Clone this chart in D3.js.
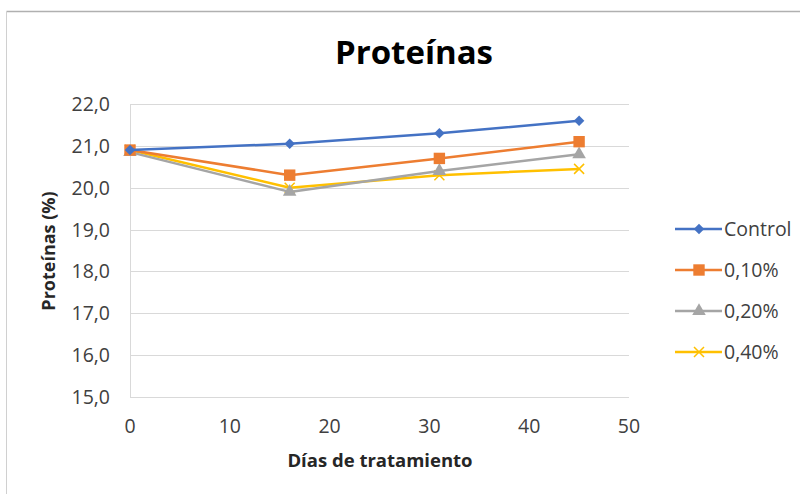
<!DOCTYPE html>
<html>
<head>
<meta charset="utf-8">
<script src="https://cdn.jsdelivr.net/npm/d3@7"></script>
<style>
  html, body { margin: 0; padding: 0; background: #fff; }
  svg { display: block; }
  text { font-family: "Open Sans", "Noto Sans", sans-serif; fill: #404040; }
</style>
</head>
<body>
<svg id="chart" width="800" height="494"></svg>
<script>
// Protein content (%) over the treatment period
const days = [0, 16, 31, 45];
const seriesNames = ["Control", "0,10%", "0,20%", "0,40%"];
const control = [20.9, 21.05, 21.3, 21.6];
const dose010 = [20.9, 20.3, 20.7, 21.1];
const dose020 = [20.85, 19.9, 20.4, 20.8];
const dose040 = [20.9, 20.0, 20.3, 20.45];
const yTicks = [15, 16, 17, 18, 19, 20, 21, 22];
const xTicks = [0, 10, 20, 30, 40, 50];

const colors = ["#4472C4", "#ED7D31", "#A5A5A5", "#FFC000"];
const symbols = [d3.symbolSquare, d3.symbolSquare, d3.symbolTriangle, d3.symbolCross];
const symbolSizes = [55, 130, 80, 0];
const symbolRotation = [45, 0, 0, 0];
const seriesValues = [control, dose010, dose020, dose040];

const svg = d3.select("#chart");

// chart frame
svg.append("line").attr("x1", 6.5).attr("x2", 800).attr("y1", 11.5).attr("y2", 11.5)
  .attr("stroke", "#b0b0b0").attr("stroke-width", 1.5);
svg.append("line").attr("x1", 6.5).attr("x2", 6.5).attr("y1", 11.5).attr("y2", 494)
  .attr("stroke", "#d0d0d0").attr("stroke-width", 1);

const x = d3.scaleLinear().domain([0, 50]).range([130, 629]);
const y = d3.scaleLinear().domain([15, 22]).range([397, 104]);

// horizontal gridlines
svg.append("g")
  .selectAll("line").data(yTicks).join("line")
  .attr("x1", x(0)).attr("x2", x(50))
  .attr("y1", d => Math.round(y(d)) + 0.5).attr("y2", d => Math.round(y(d)) + 0.5)
  .attr("stroke", "#d9d9d9").attr("stroke-width", 1);

// vertical axis line
svg.append("line").attr("x1", x(0) + 0.5).attr("x2", x(0) + 0.5)
  .attr("y1", y(22)).attr("y2", y(15))
  .attr("stroke", "#d9d9d9");

// y tick labels
const fmt = d => d3.format(".1f")(d).replace(".", ",");
svg.append("g").selectAll("text").data(yTicks).join("text")
  .attr("x", 110).attr("y", d => y(d)).attr("dy", "0.36em")
  .attr("text-anchor", "end").style("font-size", "19.5px")
  .text(fmt);

// x tick labels
svg.append("g").selectAll("text").data(xTicks).join("text")
  .attr("x", d => x(d)).attr("y", 426).attr("dy", "0.36em")
  .attr("text-anchor", "middle").style("font-size", "19.5px")
  .text(d => d);

// title and axis titles
svg.append("text").attr("x", 414).attr("y", 64).attr("text-anchor", "middle")
  .style("font-size", "33px").style("font-weight", "bold").style("fill", "#000")
  .text("Proteínas");
svg.append("text").attr("x", 380).attr("y", 467).attr("text-anchor", "middle")
  .style("font-size", "18.5px").style("font-weight", "bold").style("fill", "#262626")
  .text("Días de tratamiento");
svg.append("text").attr("transform", "translate(55,251) rotate(-90)")
  .attr("text-anchor", "middle")
  .style("font-size", "18px").style("font-weight", "bold").style("fill", "#262626")
  .text("Proteínas (%)");

const line = d3.line().x((d, i) => x(days[i])).y(d => y(d));

function drawMarker(g, k, cx, cy) {
  if (k === 3) {
    const s = 5;
    g.append("path")
      .attr("d", `M${cx - s},${cy - s}L${cx + s},${cy + s}M${cx - s},${cy + s}L${cx + s},${cy - s}`)
      .attr("stroke", colors[k]).attr("stroke-width", 1.5).attr("fill", "none");
  } else {
    g.append("path")
      .attr("d", d3.symbol().type(symbols[k]).size(symbolSizes[k])())
      .attr("transform", `translate(${cx},${cy}) rotate(${symbolRotation[k]})`)
      .attr("fill", colors[k]);
  }
}

// series lines and markers, drawn back to front
[3, 2, 1, 0].forEach(k => {
  const g = svg.append("g");
  g.append("path").datum(seriesValues[k])
    .attr("d", line).attr("fill", "none")
    .attr("stroke", colors[k]).attr("stroke-width", 2.5)
    .attr("stroke-linejoin", "round");
  seriesValues[k].forEach((v, i) => drawMarker(g, k, x(days[i]), y(v)));
});

// legend
const legendY = [229, 270, 311, 352];
seriesNames.forEach((name, k) => {
  const g = svg.append("g");
  const ly = legendY[k];
  g.append("line").attr("x1", 675).attr("x2", 722).attr("y1", ly).attr("y2", ly)
    .attr("stroke", colors[k]).attr("stroke-width", 2.5);
  drawMarker(g, k, 699, ly);
  g.append("text").attr("x", 724).attr("y", ly).attr("dy", "0.36em")
    .style("font-size", "19.5px").text(name);
});
</script>
</body>
</html>
